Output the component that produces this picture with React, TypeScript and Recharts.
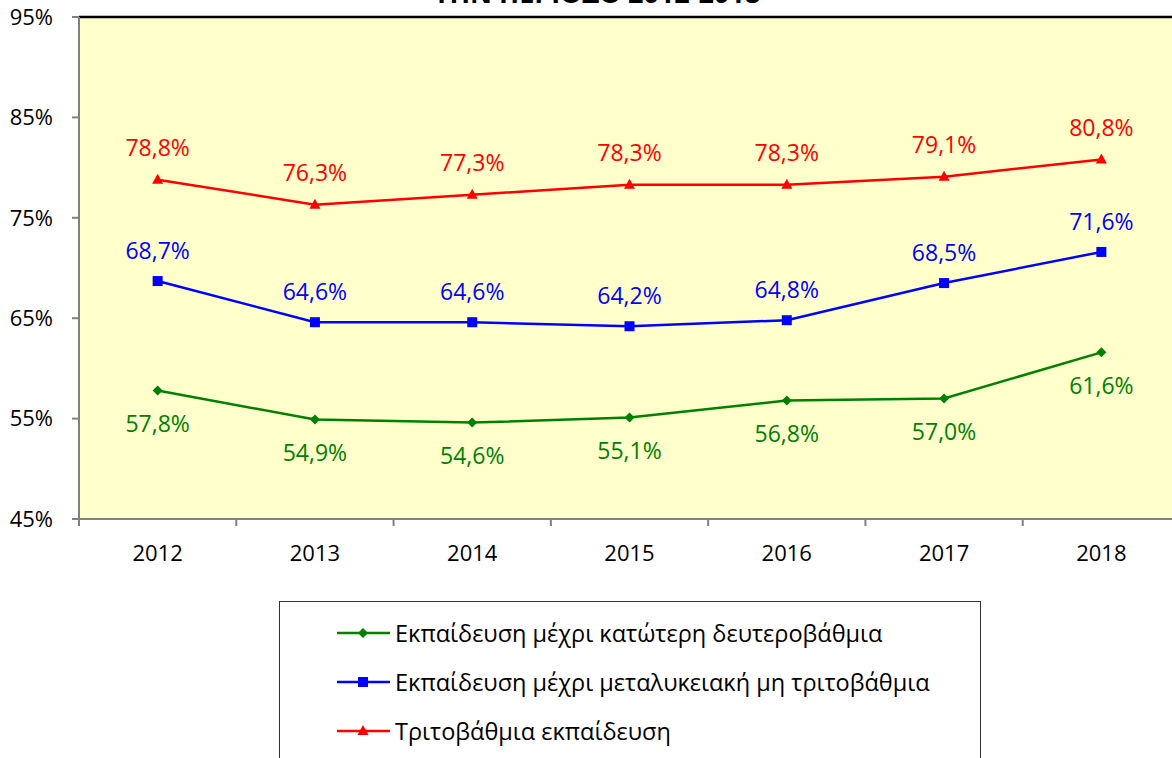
import React from "react";
import {
  LineChart,
  Line,
  XAxis,
  YAxis,
  CartesianGrid,
  ReferenceLine,
  LabelList,
  Legend,
} from "recharts";

const years = ["2012", "2013", "2014", "2015", "2016", "2017", "2018"];
const lowerSecondary = [57.8, 54.9, 54.6, 55.1, 56.8, 57.0, 61.6];
const postSecondary = [68.7, 64.6, 64.6, 64.2, 64.8, 68.5, 71.6];
const tertiary = [78.8, 76.3, 77.3, 78.3, 78.3, 79.1, 80.8];
const yTicks = [45, 55, 65, 75, 85, 95];

const seriesNames = {
  low: "Εκπαίδευση μέχρι κατώτερη δευτεροβάθμια",
  mid: "Εκπαίδευση μέχρι μεταλυκειακή μη τριτοβάθμια",
  high: "Τριτοβάθμια εκπαίδευση",
};

const data = years.map((year, i) => ({
  i,
  year,
  low: lowerSecondary[i],
  mid: postSecondary[i],
  high: tertiary[i],
}));

const GREEN = "#008000";
const BLUE = "#0000FF";
const RED = "#FF0000";
const FONT = "'Open Sans', 'Noto Sans', sans-serif";

const fmt = (v: number) => v.toFixed(1).replace(".", ",") + "%";

const Diamond = (props: any) => {
  const { cx, cy } = props;
  if (cx == null || cy == null) return null;
  return (
    <polygon
      points={`${cx},${cy - 5} ${cx + 5},${cy} ${cx},${cy + 5} ${cx - 5},${cy}`}
      fill={GREEN}
    />
  );
};

const Square = (props: any) => {
  const { cx, cy } = props;
  if (cx == null || cy == null) return null;
  return <rect x={cx - 5} y={cy - 5} width={10} height={10} fill={BLUE} />;
};

const Triangle = (props: any) => {
  const { cx, cy } = props;
  if (cx == null || cy == null) return null;
  return (
    <polygon
      points={`${cx},${cy - 6} ${cx + 5.5},${cy + 4} ${cx - 5.5},${cy + 4}`}
      fill={RED}
    />
  );
};

function LegendBox() {
  const items = [
    { key: "low", color: GREEN, marker: "diamond" },
    { key: "mid", color: BLUE, marker: "square" },
    { key: "high", color: RED, marker: "triangle" },
  ];
  return (
    <div
      style={{
        width: 702,
        height: 170,
        border: "1px solid #333",
        background: "#fff",
        boxSizing: "border-box",
        paddingTop: 6,
        fontFamily: FONT,
      }}
    >
      {items.map((it) => (
        <div
          key={it.key}
          style={{ display: "flex", alignItems: "center", height: 49, paddingLeft: 57 }}
        >
          <svg width={53} height={14} style={{ marginRight: 5, flexShrink: 0 }}>
            <line x1={0} y1={7} x2={53} y2={7} stroke={it.color} strokeWidth={2.5} />
            {it.marker === "diamond" && <Diamond cx={26} cy={7} />}
            {it.marker === "square" && <Square cx={26} cy={7} />}
            {it.marker === "triangle" && <Triangle cx={26} cy={7} />}
          </svg>
          <span style={{ fontSize: 23.5, color: "#000", whiteSpace: "nowrap" }}>
            {seriesNames[it.key as keyof typeof seriesNames]}
          </span>
        </div>
      ))}
    </div>
  );
}

export default function App() {
  return (
    <div
      style={{
        position: "absolute",
        left: 0,
        top: 0,
        width: 1172,
        height: 758,
        overflow: "hidden",
        background: "#fff",
      }}
    >
      <div
        style={{
          position: "absolute",
          left: 597,
          top: -21,
          transform: "translateX(-50%)",
          whiteSpace: "nowrap",
          fontFamily: FONT,
          fontWeight: 700,
          fontSize: 27,
          lineHeight: "27px",
          color: "#000",
          zIndex: 2,
        }}
      >
        ΤΗΝ ΠΕΡΙΟΔΟ 2012-2018
      </div>
      <LineChart
        width={1200}
        height={758}
        data={data}
        margin={{ top: 17, right: 20, bottom: 181, left: 0 }}
      >
        <CartesianGrid horizontal={false} vertical={false} fill="#FFFFCC" />
        <XAxis
          xAxisId="frame"
          dataKey="i"
          type="number"
          domain={[-0.5, 6.5]}
          ticks={[-0.5, 0.5, 1.5, 2.5, 3.5, 4.5, 5.5, 6.5]}
          tickFormatter={() => ""}
          tickSize={7}
          height={8}
          stroke="#808080"
          strokeWidth={2}
        />
        <XAxis
          xAxisId="main"
          dataKey="i"
          type="number"
          domain={[-0.5, 6.5]}
          ticks={[0, 1, 2, 3, 4, 5, 6]}
          tickFormatter={(v: number) => years[v]}
          axisLine={false}
          tickLine={false}
          tickSize={0}
          tickMargin={18}
          height={50}
          tick={{ fontSize: 22, fill: "#000", fontFamily: FONT }}
        />
        <YAxis
          domain={[45, 95]}
          ticks={yTicks}
          tickFormatter={(v: number) => `${v}%`}
          width={79}
          tickSize={7}
          tickMargin={19}
          stroke="#808080"
          strokeWidth={2}
          tick={{ fontSize: 22, fill: "#000", fontFamily: FONT }}
        />
        <ReferenceLine xAxisId="main" y={95} stroke="#000" strokeWidth={2.5} />
        <Line
          xAxisId="main"
          dataKey="low"
          name={seriesNames.low}
          stroke={GREEN}
          strokeWidth={2.5}
          dot={<Diamond />}
          isAnimationActive={false}
        >
          <LabelList
            dataKey="low"
            position="bottom"
            offset={25}
            formatter={(v: any) => fmt(Number(v))}
            style={{ fontSize: 23, fill: GREEN, fontFamily: FONT }}
          />
        </Line>
        <Line
          xAxisId="main"
          dataKey="mid"
          name={seriesNames.mid}
          stroke={BLUE}
          strokeWidth={2.5}
          dot={<Square />}
          isAnimationActive={false}
        >
          <LabelList
            dataKey="mid"
            position="top"
            offset={22}
            formatter={(v: any) => fmt(Number(v))}
            style={{ fontSize: 23, fill: BLUE, fontFamily: FONT }}
          />
        </Line>
        <Line
          xAxisId="main"
          dataKey="high"
          name={seriesNames.high}
          stroke={RED}
          strokeWidth={2.5}
          dot={<Triangle />}
          isAnimationActive={false}
        >
          <LabelList
            dataKey="high"
            position="top"
            offset={24}
            formatter={(v: any) => fmt(Number(v))}
            style={{ fontSize: 23, fill: RED, fontFamily: FONT }}
          />
        </Line>
        <Legend
          layout="vertical"
          align="center"
          verticalAlign="middle"
          wrapperStyle={{ left: 279, top: 601, width: 702 }}
          content={() => <LegendBox />}
        />
      </LineChart>
    </div>
  );
}
